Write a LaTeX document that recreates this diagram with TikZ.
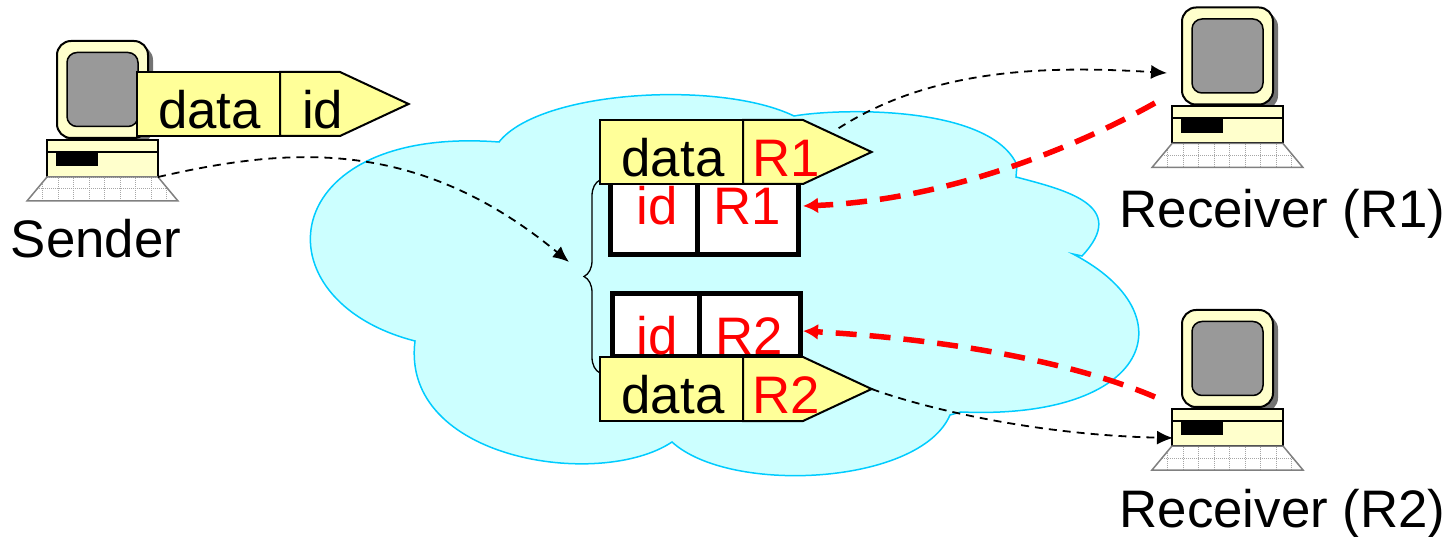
\documentclass[tikz,border=0pt]{standalone}
\usepackage{fontspec}
\setmainfont{Liberation Sans}
\usetikzlibrary{shadows,arrows.meta,shapes.symbols,decorations.pathreplacing}

\definecolor{cloudfill}{HTML}{CCFFFF}
\definecolor{cloudline}{HTML}{00CCFF}
\definecolor{packetfill}{HTML}{FFFF99}
\definecolor{casefill}{HTML}{FFFFCC}

\begin{document}
\begin{tikzpicture}[x=1pt,y=-1pt]
        \useasboundingbox (0,0) rectangle (1452,537);

        % Styles:
        \tikzstyle{bigtext}=[font=\fontsize{52.8}{60}\selectfont, inner sep=0pt, outer sep=0pt]
        \tikzstyle{datacell}=[bigtext, draw, line width=2pt, fill=packetfill,
        minimum width=143pt, minimum height=64pt, text height=49pt, text depth=0pt]
        \tikzstyle{idcell}=[bigtext, draw, line width=2pt, fill=packetfill,
        shape=signal, signal to=east, signal pointer angle=50,
        minimum width=128pt, minimum height=64pt, text height=49pt, text depth=0pt]
        \tikzstyle{boxcell}=[bigtext, draw, line width=5pt, fill=white, text=red, text depth=0pt]
        \tikzstyle{monitor}=[draw, line width=2pt, fill=casefill, rounded corners=14pt,
        minimum width=91pt, minimum height=97pt,
        drop shadow={shadow xshift=5pt, shadow yshift=-5pt, fill=black!55, opacity=1}]
        \tikzstyle{screen}=[draw, line width=1.5pt, fill=black!40, rounded corners=10pt,
        minimum width=71pt, minimum height=74pt]
        \tikzstyle{tower}=[draw, line width=2pt, fill=casefill, outer sep=0pt,
        minimum width=111pt, minimum height=37pt, anchor=north]
        \tikzstyle{slot}=[fill=black, inner sep=0pt, minimum width=42pt, minimum height=14pt, anchor=north west]
        \tikzstyle{keys}=[draw=black!50, line width=1.5pt, fill=white]
        \tikzstyle{line}=[draw, line width=1.8pt, dash pattern=on 8pt off 6pt, -{Latex[length=16pt,width=14pt]}]
        \tikzstyle{redline}=[draw, color=red, line width=5.5pt, dash pattern=on 21pt off 13pt, -{Latex[length=15pt,width=16pt]}]

        \newcommand{\datacell}[3]{node (d#1) [datacell,#3] {#2}}
        \newcommand{\idcell}[4]{node (i#1) [idcell,#4] {\makebox[60pt][l]{\hspace*{#3}#2}}}

        \newcommand{\computer}[3]{%
        \path (#2,#3) node (mon#1) [monitor] {};
        \path (mon#1.center) node (scr#1) [screen] {};
        \path (mon#1.south)+(0,1) node (tow#1) [tower] {};
        \path [draw, line width=2pt] (tow#1.north west)+(0,12) -- +(111,12);
        \path (tow#1.north west)+(9,12) node (slot#1) [slot] {};
        \path (tow#1.south)+(0,24) coordinate (key#1);
        \path [keys, path picture={
            \draw [shift={(path picture bounding box.south west)}, black!35, line width=1pt, densely dotted,
            xstep=15.5pt, ystep=12pt] (0,0) grid (151,-24);}]
        (tow#1.south west) -- (tow#1.south east) -- +(20,24) -- +(-131,24) -- cycle;}

        % Cloud:
        \path [draw=cloudline, fill=cloudfill, line width=1.5pt]
        (499,142) .. controls (540,90) and (720,80) .. (794,116)
        .. controls (840,108) and (990,105) .. (1017,165) -- (1016,177)
        .. controls (1065,190) and (1130,205) .. (1082,256) -- (1073,254)
        .. controls (1190,315) and (1150,420) .. (961,412) -- (950,415)
        .. controls (920,485) and (730,495) .. (672,442)
        .. controls (600,490) and (400,460) .. (415,341)
        .. controls (255,300) and (275,125) .. (499,142) -- cycle;

        % Computers:
        \computer{s}{102.5}{89.5}
        \computer{a}{1227.5}{56}
        \computer{b}{1227.5}{358.5}

        \path (keys)+(-6.5,57) node (lsender) [bigtext, anchor=base] {Sender};
        \path (keya)+(55,60) node (lra) [bigtext, anchor=base] {Receiver (R1)};
        \path (keyb)+(55,57) node (lrb) [bigtext, anchor=base] {Receiver (R2)};

        % Brace:
        \coordinate (bracetop) at (600,180);
        \coordinate (bracebot) at (600,373);
        \draw [line width=1.3pt, decorate, decoration={brace, mirror, amplitude=16pt}] (bracetop) -- (bracebot);

        % Address boxes:
        \path (610,183) node (ca) [boxcell, anchor=north west, minimum width=87pt, minimum height=72pt, text height=12pt] {\hspace*{8pt}id};
        \path (ca.east) node (ra) [boxcell, anchor=west, minimum width=101pt, minimum height=72pt, text height=12pt] {R1};
        \path (612,294) node (cb) [boxcell, anchor=north west, minimum width=87pt, minimum height=63pt, text height=59pt] {\hspace*{4pt}id};
        \path (cb.east) node (rb) [boxcell, anchor=west, minimum width=101pt, minimum height=63pt, text height=59pt] {R2};

        % Packets:
        \path (137,104) \datacell{s}{\hspace*{2pt}data}{anchor=west};
        \path (ds.east) \idcell{s}{id}{22pt}{anchor=west};
        \path (600,152) \datacell{a}{\hspace*{3pt}data}{anchor=west};
        \path (da.east) \idcell{a}{\textcolor{red}{R1}}{9pt}{anchor=west};
        \path (600,389) \datacell{b}{\hspace*{3pt}data}{anchor=west};
        \path (db.east) \idcell{b}{\textcolor{red}{R2}}{9pt}{anchor=west};

        % Arrows:
        \coordinate (bracein) at (569,262);
        \coordinate (aout) at (1155,103);
        \coordinate (bout) at (1155,397);
        \coordinate (ain) at (1167,73);
        \coordinate (bin) at (1173,438);

        \path [line] (tows.south east) .. controls (285,148) and (415,135) .. (bracein);
        \path [line] ([shift={(3,-7)}]ia.15) .. controls (930,70) and (1040,65) .. (ain);
        \path [line] (ib.east) .. controls (930,410) and (1040,435) .. (bin);
        \path [redline] (aout) .. controls (1080,145) and (950,200) .. ([shift={(5,-13)}]ra.east);
        \path [redline] (bout) .. controls (1080,365) and (960,340) .. ([shift={(3,5.5)}]rb.east);
\end{tikzpicture}
\end{document}
